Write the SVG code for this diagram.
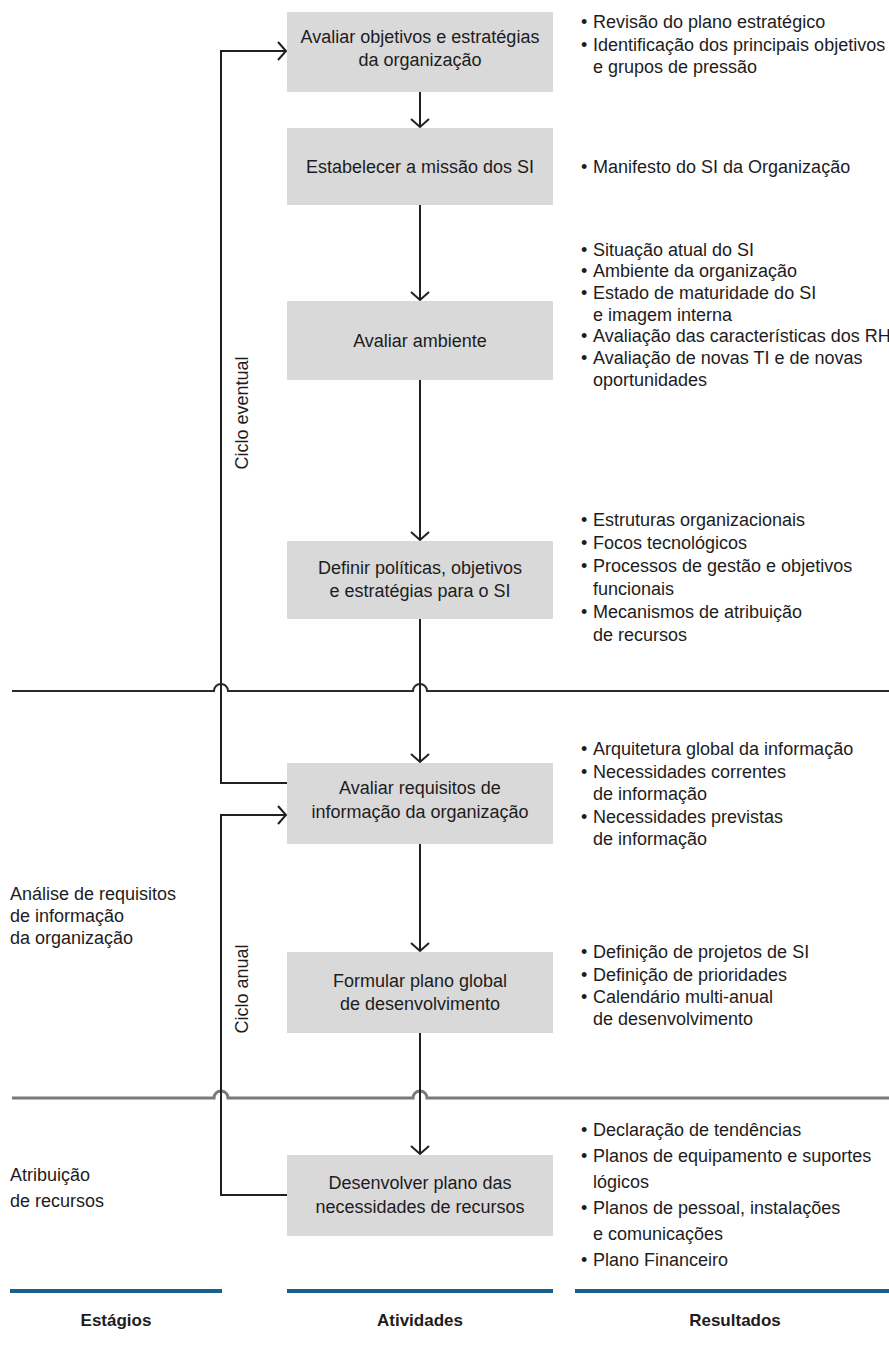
<svg xmlns="http://www.w3.org/2000/svg" width="889" height="1366" viewBox="0 0 889 1366">
  <style>
    .bg { fill: #ffffff; }
    .box { fill: #d9d9d9; }
    .t { font-family: "Liberation Sans", Arial, sans-serif; font-size: 18px; fill: #1e1c1d; }
    .c { text-anchor: middle; }
    .h { font-family: "Liberation Sans", Arial, sans-serif; font-size: 17px; font-weight: bold; fill: #1e1c1d; text-anchor: middle; }
    .ln { fill: none; stroke: #231f20; stroke-width: 2; }
    .sep1 { fill: none; stroke: #2b2b2b; stroke-width: 2; }
    .sep2 { fill: none; stroke: #7a7a7a; stroke-width: 3; }
    .blue { stroke: #1b5e8c; stroke-width: 4; }
  </style>
  <defs>
    <marker id="chev" viewBox="-10 -10 12 20" markerWidth="12" markerHeight="20" refX="0" refY="0" orient="auto" markerUnits="userSpaceOnUse">
      <path d="M-8,-9 L0,0 L-8,9" fill="none" stroke="#231f20" stroke-width="2"/>
    </marker>
  </defs>

  <rect class="bg" width="889" height="1366"/>

  <!-- stage separators with hops over the vertical flows -->
  <g id="separators">
    <path class="sep1" d="M12 691 H214 A7 7 0 0 1 228 691 H413 A7 7 0 0 1 427 691 H889"/>
    <path class="sep2" d="M12 1098 H214 A7 7 0 0 1 228 1098 H413 A7 7 0 0 1 427 1098 H889"/>
  </g>

  <!-- connectors -->
  <g id="connectors">
    <line class="ln" x1="420" y1="92" x2="420" y2="127" marker-end="url(#chev)"/>
    <line class="ln" x1="420" y1="205" x2="420" y2="300" marker-end="url(#chev)"/>
    <line class="ln" x1="420" y1="380" x2="420" y2="540" marker-end="url(#chev)"/>
    <line class="ln" x1="420" y1="619" x2="420" y2="762" marker-end="url(#chev)"/>
    <line class="ln" x1="420" y1="844" x2="420" y2="951" marker-end="url(#chev)"/>
    <line class="ln" x1="420" y1="1033" x2="420" y2="1154" marker-end="url(#chev)"/>
    <!-- eventual cycle: back to the first activity -->
    <path class="ln" d="M287 783 H221 V51 H286" marker-end="url(#chev)"/>
    <!-- annual cycle: back to requirements analysis -->
    <path class="ln" d="M287 1195 H221 V815 H286" marker-end="url(#chev)"/>
  </g>

  <!-- cycle labels -->
  <g id="cycle-labels">
    <text class="t" transform="translate(248 413) rotate(-90)" text-anchor="middle">Ciclo eventual</text>
    <text class="t" transform="translate(248 989) rotate(-90)" text-anchor="middle">Ciclo anual</text>
  </g>

  <!-- activities -->
  <g id="n1">
    <rect class="box" x="287" y="12" width="266" height="80"/>
    <text class="t c" x="420" y="43">Avaliar objetivos e estratégias</text>
    <text class="t c" x="420" y="66">da organização</text>
  </g>
  <g id="n2">
    <rect class="box" x="287" y="128" width="266" height="77"/>
    <text class="t c" x="420" y="173">Estabelecer a missão dos SI</text>
  </g>
  <g id="n3">
    <rect class="box" x="287" y="301" width="266" height="79"/>
    <text class="t c" x="420" y="347">Avaliar ambiente</text>
  </g>
  <g id="n4">
    <rect class="box" x="287" y="541" width="266" height="78"/>
    <text class="t c" x="420" y="574">Definir políticas, objetivos</text>
    <text class="t c" x="420" y="597">e estratégias para o SI</text>
  </g>
  <g id="n5">
    <rect class="box" x="287" y="763" width="266" height="81"/>
    <text class="t c" x="420" y="794">Avaliar requisitos de</text>
    <text class="t c" x="420" y="818">informação da organização</text>
  </g>
  <g id="n6">
    <rect class="box" x="287" y="952" width="266" height="81"/>
    <text class="t c" x="420" y="987">Formular plano global</text>
    <text class="t c" x="420" y="1010">de desenvolvimento</text>
  </g>
  <g id="n7">
    <rect class="box" x="287" y="1155" width="266" height="81"/>
    <text class="t c" x="420" y="1189">Desenvolver plano das</text>
    <text class="t c" x="420" y="1213">necessidades de recursos</text>
  </g>

  <!-- results -->
  <g id="r1">
    <text class="t" x="581" y="28">•</text><text class="t" x="593" y="28">Revisão do plano estratégico</text>
    <text class="t" x="581" y="51">•</text><text class="t" x="593" y="51">Identificação dos principais objetivos</text>
    <text class="t" x="593" y="73">e grupos de pressão</text>
  </g>
  <g id="r2">
    <text class="t" x="581" y="173">•</text><text class="t" x="593" y="173">Manifesto do SI da Organização</text>
  </g>
  <g id="r3">
    <text class="t" x="581" y="256">•</text><text class="t" x="593" y="256">Situação atual do SI</text>
    <text class="t" x="581" y="277">•</text><text class="t" x="593" y="277">Ambiente da organização</text>
    <text class="t" x="581" y="299">•</text><text class="t" x="593" y="299">Estado de maturidade do SI</text>
    <text class="t" x="593" y="321">e imagem interna</text>
    <text class="t" x="581" y="342">•</text><text class="t" x="593" y="342">Avaliação das características dos RH</text>
    <text class="t" x="581" y="364">•</text><text class="t" x="593" y="364">Avaliação de novas TI e de novas</text>
    <text class="t" x="593" y="386">oportunidades</text>
  </g>
  <g id="r4">
    <text class="t" x="581" y="526">•</text><text class="t" x="593" y="526">Estruturas organizacionais</text>
    <text class="t" x="581" y="549">•</text><text class="t" x="593" y="549">Focos tecnológicos</text>
    <text class="t" x="581" y="572">•</text><text class="t" x="593" y="572">Processos de gestão e objetivos</text>
    <text class="t" x="593" y="595">funcionais</text>
    <text class="t" x="581" y="618">•</text><text class="t" x="593" y="618">Mecanismos de atribuição</text>
    <text class="t" x="593" y="641">de recursos</text>
  </g>
  <g id="r5">
    <text class="t" x="581" y="755">•</text><text class="t" x="593" y="755">Arquitetura global da informação</text>
    <text class="t" x="581" y="778">•</text><text class="t" x="593" y="778">Necessidades correntes</text>
    <text class="t" x="593" y="800">de informação</text>
    <text class="t" x="581" y="823">•</text><text class="t" x="593" y="823">Necessidades previstas</text>
    <text class="t" x="593" y="845">de informação</text>
  </g>
  <g id="r6">
    <text class="t" x="581" y="958">•</text><text class="t" x="593" y="958">Definição de projetos de SI</text>
    <text class="t" x="581" y="981">•</text><text class="t" x="593" y="981">Definição de prioridades</text>
    <text class="t" x="581" y="1003">•</text><text class="t" x="593" y="1003">Calendário multi-anual</text>
    <text class="t" x="593" y="1025">de desenvolvimento</text>
  </g>
  <g id="r7">
    <text class="t" x="581" y="1136">•</text><text class="t" x="593" y="1136">Declaração de tendências</text>
    <text class="t" x="581" y="1162">•</text><text class="t" x="593" y="1162">Planos de equipamento e suportes</text>
    <text class="t" x="593" y="1188">lógicos</text>
    <text class="t" x="581" y="1214">•</text><text class="t" x="593" y="1214">Planos de pessoal, instalações</text>
    <text class="t" x="593" y="1240">e comunicações</text>
    <text class="t" x="581" y="1266">•</text><text class="t" x="593" y="1266">Plano Financeiro</text>
  </g>

  <!-- stages -->
  <g id="s1">
    <text class="t" x="10" y="900">Análise de requisitos</text>
    <text class="t" x="10" y="922">de informação</text>
    <text class="t" x="10" y="944">da organização</text>
  </g>
  <g id="s2">
    <text class="t" x="10" y="1181">Atribuição</text>
    <text class="t" x="10" y="1207">de recursos</text>
  </g>

  <!-- column footer -->
  <g id="footer">
    <line class="blue" x1="10" y1="1291" x2="222" y2="1291"/>
    <line class="blue" x1="287" y1="1291" x2="553" y2="1291"/>
    <line class="blue" x1="575" y1="1291" x2="889" y2="1291"/>
    <text class="h" x="116" y="1326">Estágios</text>
    <text class="h" x="420" y="1326">Atividades</text>
    <text class="h" x="735" y="1326">Resultados</text>
  </g>
</svg>
